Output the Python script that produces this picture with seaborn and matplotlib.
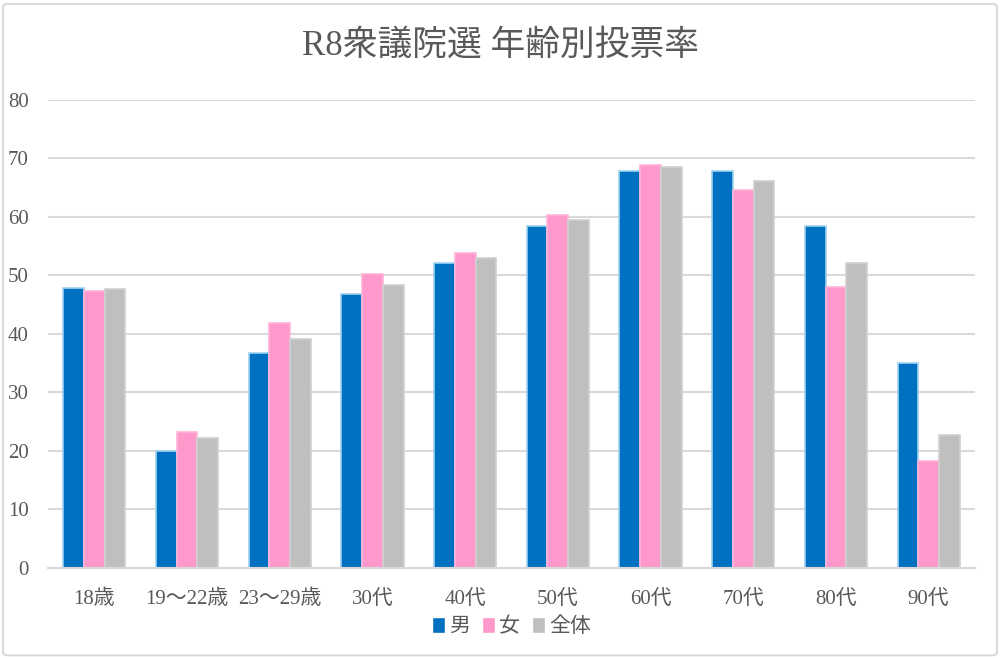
import numpy as np
import pandas as pd
import matplotlib
matplotlib.use('Agg')
import matplotlib.pyplot as plt
import seaborn as sns
from matplotlib.patches import FancyBboxPatch

ages   = ['18歳', '19～22歳', '23～29歳', '30代', '40代', '50代', '60代', '70代', '80代', '90代']
male   = [47.9, 20.0, 36.7, 46.8, 52.2, 58.5, 67.9, 67.9, 58.5, 35.1]
female = [47.4, 23.3, 41.8, 50.3, 53.9, 60.4, 68.9, 64.6, 48.1, 18.2]
total  = [47.6, 22.2, 39.1, 48.4, 53.0, 59.5, 68.5, 66.1, 52.1, 22.7]
series = ['男', '女', '全体']

df = pd.DataFrame({
    'age': ages * 3,
    'rate': male + female + total,
    'sex': [s for s in series for _ in ages],
})

sns.set_style('white')
plt.rcParams['font.family'] = ['Liberation Serif', 'Noto Sans CJK JP', 'DejaVu Sans']
TXT = '#595959'

fig = plt.figure(figsize=(10, 6.58), dpi=100)
ax = fig.add_axes([0.048, 0.137, 0.927, 0.711])

palette = {'男': '#0070C0', '女': '#FF99CC', '全体': '#BFBFBF'}
sns.barplot(data=df, x='age', y='rate', hue='sex', hue_order=series,
            order=ages, palette=palette, width=0.67, saturation=1,
            ax=ax, legend=True)

edge = {'男': '#9DD3F0', '女': '#FFB3D9', '全体': '#D0D0D0'}
for cont, s in zip(ax.containers, series):
    for bar in cont:
        bar.set_edgecolor(edge[s])
        bar.set_linewidth(1.2)

ax.set_ylim(0, 80)
ax.set_yticks(range(0, 81, 10))
ax.grid(True, axis='y', color='#D9D9D9', linewidth=1.5)
ax.set_axisbelow(True)
for sp in ['top', 'right', 'left']:
    ax.spines[sp].set_visible(False)
ax.spines['bottom'].set_color('#D9D9D9')
ax.spines['bottom'].set_linewidth(1.5)
ax.set_xlabel('')
ax.set_ylabel('')
ax.tick_params(axis='both', length=0, labelsize=15, colors=TXT)
ax.tick_params(axis='x', pad=16)
ax.tick_params(axis='y', pad=14)

handles, labels = ax.get_legend_handles_labels()
ax.legend(handles, labels, loc='upper center', bbox_to_anchor=(0.5, -0.065),
          ncol=3, frameon=False, fontsize=15, labelcolor=TXT,
          handlelength=0.6, handleheight=0.8, handletextpad=0.2,
          columnspacing=0.6)

fig.text(0.5, 0.93, 'R8衆議院選 年齢別投票率', ha='center', va='center',
         fontsize=25, color=TXT)

fig.patches.append(FancyBboxPatch((0.003, 0.004), 0.994, 0.99,
                                  boxstyle='round,pad=0,rounding_size=0.005',
                                  transform=fig.transFigure, fill=False,
                                  edgecolor='#D9D9D9', linewidth=1.5))

fig.savefig('out.png', dpi=100)
